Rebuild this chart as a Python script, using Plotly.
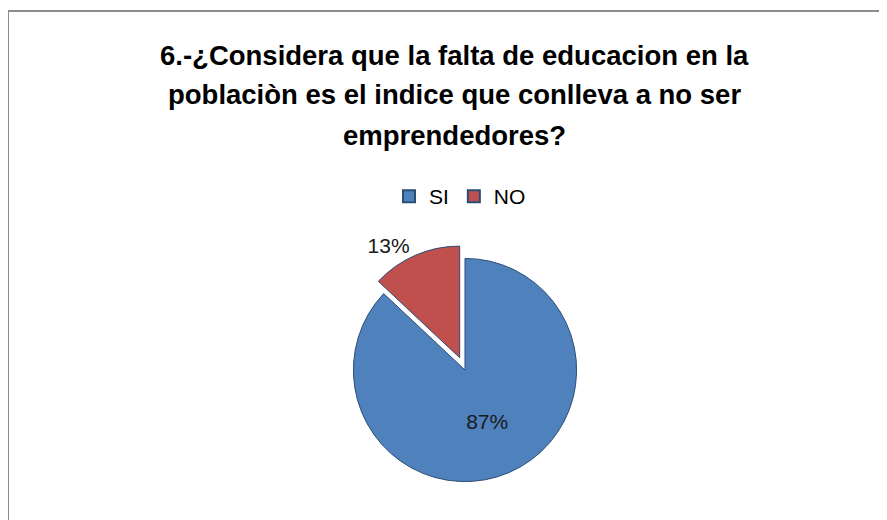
import plotly.graph_objects as go

labels = ['SI', 'NO']
values = [87, 13]
colors = ['#4F81BD', '#C0504D']

title_lines = ['6.-¿Considera que la falta de educacion en la',
               'poblaciòn es el indice que conlleva a no ser',
               'emprendedores?']

W, H = 887, 520

fig = go.Figure()

fig.add_trace(go.Pie(
    labels=labels, values=values, sort=False, direction='clockwise', rotation=0,
    marker=dict(colors=colors, line=dict(color='#2c4d75', width=1)),
    pull=[0, 0.12],
    texttemplate='%{percent:.0%}',
    textposition=['inside', 'outside'],
    textfont=dict(size=21, color='#1a1a1a'),
    insidetextorientation='horizontal',
    domain=dict(x=[(457 - 130) / W, (457 + 130) / W], y=[1 - (362 + 125) / H, 1 - (362 - 125) / H]),
    hoverinfo='label+percent',
))

# marco del grafico
fig.add_shape(type='rect', xref='paper', yref='paper',
              x0=0, x1=1.02, y0=-0.02, y1=1 - 3 / H,
              line=dict(color='#8c8c8c', width=2))

# titulo, una linea por anotacion para controlar el interlineado
for i, line in enumerate(title_lines):
    fig.add_annotation(text='<b>' + line + '</b>', xref='paper', yref='paper',
                       x=446 / W, y=1 - (47 + 40 * i) / H, xanchor='center', yanchor='middle',
                       showarrow=False,
                       font=dict(family='Liberation Sans', size=27.5, color='#000000'))

fig.update_layout(
    width=W, height=H,
    margin=dict(l=0, r=0, t=0, b=0),
    paper_bgcolor='white',
    font=dict(family='Liberation Sans', size=20, color='#000000'),
    legend=dict(orientation='h', x=452 / W, xanchor='center', y=1 - 168 / H, yanchor='top',
                font=dict(size=21), itemsizing='constant'),
    showlegend=True,
)

fig.write_html("out.html")
